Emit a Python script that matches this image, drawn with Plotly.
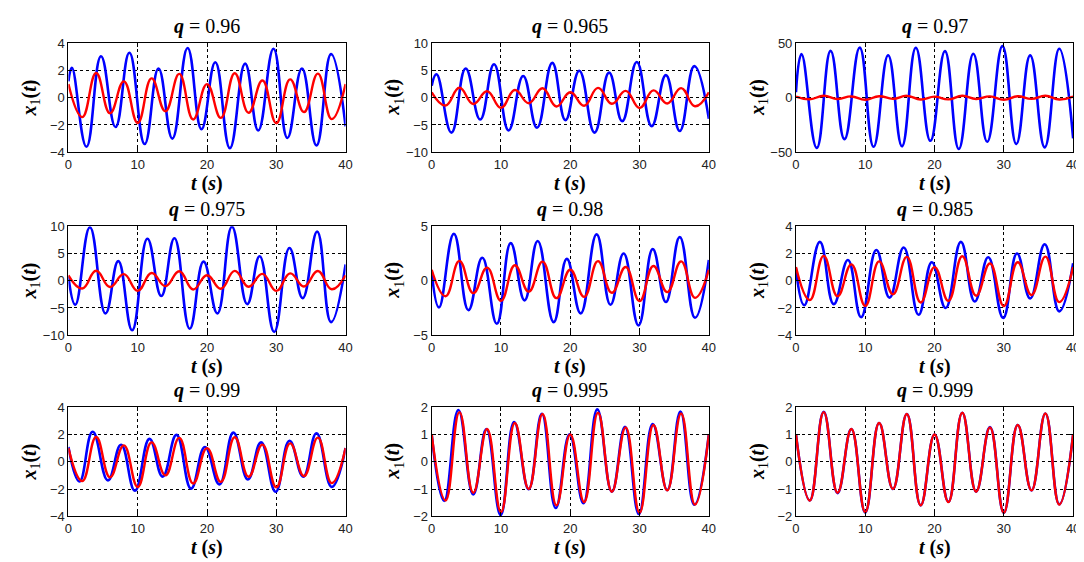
import plotly.graph_objects as go

# ---- data (extrema of each curve, t in s) ----
q_labels = ["0.96", "0.965", "0.97", "0.975", "0.98", "0.985", "0.99", "0.995", "0.999"]

# red reference curve, same in every panel
red_t = [0, 2, 4, 6, 8, 10, 12, 14, 16, 18, 20, 22, 24, 26, 28, 30, 32, 34, 36, 38, 40]
red_x = [1.0, -1.42, 1.82, -1.14, 1.2, -1.85, 1.42, -1.0, 1.75, -1.6, 1.0,
         -1.48, 1.8, -1.1, 1.26, -1.87, 1.35, -1.05, 1.77, -1.57, 1.0]

blue_t_096 = [0, 0.5, 2.6, 4.7, 6.8, 8.8, 11.0, 13.0, 15.0, 17.2, 19.2, 21.2, 23.3, 25.5, 27.4, 29.6, 31.6, 33.7, 35.8, 37.9, 40]
blue_x_096 = [1.2, 2.2, -3.6, 3.05, -2.15, 3.3, -3.4, 2.15, -3.0, 3.65, -2.3, 2.6, -3.7, 2.5, -2.4, 3.6, -2.95, 2.15, -3.5, 3.2, -2.1]

blue_t_0965 = [0, 0.7, 2.85, 4.9, 7.0, 9.0, 11.1, 13.2, 15.2, 17.4, 19.3, 21.3, 23.5, 25.6, 27.5, 29.6, 31.75, 33.8, 35.8, 37.9, 40]
blue_x_0965 = [2.2, 4.3, -6.4, 5.35, -4.0, 6.15, -6.0, 4.0, -5.5, 6.4, -4.1, 4.95, -6.4, 4.6, -4.3, 6.55, -5.2, 4.15, -6.1, 5.8, -3.85]

blue_t_097 = [0, 0.8, 3.0, 5.0, 7.0, 9.2, 11.2, 13.3, 15.3, 17.3, 19.4, 21.5, 23.5, 25.6, 27.6, 29.8, 31.8, 33.8, 35.9, 38.0, 40]
blue_x_097 = [5, 40, -46, 43, -38, 46, -45, 39, -44.5, 45.8, -39.5, 42.8, -47, 40.4, -40.4, 47.3, -42.5, 38.9, -45.5, 44.9, -37.3]

blue_t_0975 = [0, 1.0, 3.1, 5.35, 7.2, 9.2, 11.4, 13.4, 15.3, 17.5, 19.5, 21.5, 23.6, 25.8, 27.6, 29.7, 31.9, 33.8, 35.9, 37.9, 40]
blue_x_0975 = [0.8, -4.4, 9.8, -6.0, 3.6, -9.1, 7.7, -2.8, 7.8, -8.8, 3.5, -6.0, 9.9, -4.3, 4.5, -9.4, 6.0, -3.2, 9.0, -7.6, 3.0]

blue_t_098 = [0, 1.05, 3.2, 5.3, 7.3, 9.4, 11.4, 13.4, 15.3, 17.6, 19.5, 21.5, 23.8, 25.8, 27.7, 29.85, 31.9, 33.8, 35.8, 38.0, 40]
blue_x_098 = [0.85, -2.45, 4.3, -2.7, 2.1, -3.95, 3.45, -1.8, 3.65, -3.8, 2.0, -3.0, 4.25, -2.2, 2.5, -4.1, 2.9, -1.95, 4.0, -3.4, 1.9]

blue_t_0985 = [0, 1.2, 3.45, 5.45, 7.5, 9.4, 11.6, 13.5, 15.55, 17.7, 19.6, 21.6, 23.8, 25.8, 27.75, 29.9, 31.9, 33.8, 35.9, 38.0, 40]
blue_x_0985 = [0.9, -1.8, 2.85, -1.72, 1.52, -2.68, 2.25, -1.24, 2.44, -2.5, 1.36, -2.0, 2.85, -1.53, 1.72, -2.73, 2.0, -1.3, 2.68, -2.25, 1.28]

blue_t_099 = [0, 1.6, 3.5, 5.7, 7.6, 9.6, 11.7, 13.6, 15.6, 17.7, 19.7, 21.8, 23.8, 25.9, 27.8, 29.9, 31.9, 33.9, 35.8, 38.0, 40]
blue_x_099 = [1.08, -1.45, 2.2, -1.37, 1.25, -2.13, 1.68, -1.09, 1.97, -1.97, 1.08, -1.66, 2.14, -1.3, 1.42, -2.2, 1.54, -1.09, 2.09, -1.85, 1.0]

blue_t_0995 = [0, 1.8, 3.85, 6.0, 7.9, 9.95, 11.9, 14.0, 15.9, 17.9, 19.9, 21.9, 23.9, 26.0, 27.9, 29.9, 31.9, 34.0, 35.9, 37.9, 40]
blue_x_0995 = [1.0, -1.44, 1.9, -1.2, 1.2, -1.96, 1.46, -1.01, 1.76, -1.7, 1.01, -1.52, 1.92, -1.1, 1.28, -1.92, 1.38, -1.04, 1.84, -1.58, 1.0]

blue_t_0999 = [0, 2, 4, 6, 8, 10, 12, 14, 16, 18, 20, 22, 24, 26, 28, 30, 32, 34, 36, 38, 40]
blue_x_0999 = [1.0, -1.42, 1.83, -1.15, 1.2, -1.86, 1.42, -1.0, 1.75, -1.6, 1.0, -1.47, 1.8, -1.1, 1.27, -1.87, 1.35, -1.05, 1.77, -1.56, 1.0]

blue_t = [blue_t_096, blue_t_0965, blue_t_097, blue_t_0975, blue_t_098, blue_t_0985, blue_t_099, blue_t_0995, blue_t_0999]
blue_x = [blue_x_096, blue_x_0965, blue_x_097, blue_x_0975, blue_x_098, blue_x_0985, blue_x_099, blue_x_0995, blue_x_0999]

y_ranges = [[-4, 4], [-10, 10], [-50, 50], [-10, 10], [-5, 5], [-4, 4], [-4, 4], [-2, 2], [-2, 2]]
y_dticks = [2, 5, 50, 5, 5, 2, 2, 1, 1]
x_ticks = [0, 10, 20, 30, 40]

# ---- layout in pixels ----
W, H = 1084, 562
col_left = [57, 424, 792]
row_top = [29, 217, 403]
pw, ph = 280, 112

serif = "Liberation Serif, Times New Roman, serif"
sans = "Liberation Sans, Arial, sans-serif"

fig = go.Figure()
annotations = []
layout = dict(width=W, height=H, margin=dict(l=0, r=0, t=0, b=0),
              paper_bgcolor="white", plot_bgcolor="white", showlegend=False)

for k in range(9):
    r, c = divmod(k, 3)
    n = k + 1
    xa = "x" if n == 1 else "x%d" % n
    ya = "y" if n == 1 else "y%d" % n
    x0 = col_left[c] / W
    x1 = (col_left[c] + pw) / W
    y1 = 1 - row_top[r] / H
    y0 = 1 - (row_top[r] + ph) / H

    fig.add_trace(go.Scatter(x=blue_t[k], y=blue_x[k], mode="lines",
                             line=dict(color="#0000ff", width=2.6, shape="spline", smoothing=1.3),
                             xaxis=xa, yaxis=ya))
    fig.add_trace(go.Scatter(x=red_t, y=red_x, mode="lines",
                             line=dict(color="#ff0000", width=2.4, shape="spline", smoothing=1.3),
                             xaxis=xa, yaxis=ya))

    common = dict(showline=True, linecolor="black", linewidth=1, mirror="ticks",
                  ticks="inside", ticklen=4, tickcolor="black",
                  showgrid=True, gridcolor="black", griddash="dot", gridwidth=1,
                  zeroline=False, tickfont=dict(family=sans, size=13, color="#222"))
    layout["xaxis" if n == 1 else "xaxis%d" % n] = dict(
        common, domain=[x0, x1], range=[0, 40], tickvals=x_ticks, anchor=ya)
    layout["yaxis" if n == 1 else "yaxis%d" % n] = dict(
        common, domain=[y0, y1], range=y_ranges[k], dtick=y_dticks[k], anchor=xa)

    xc = (x0 + x1) / 2
    annotations.append(dict(text="<b><i>q</i></b> = " + q_labels[k], x=xc,
                            y=1 - (row_top[r] - 17) / H, xref="paper", yref="paper",
                            showarrow=False, xanchor="center", yanchor="middle",
                            font=dict(family=serif, size=20, color="black")))
    annotations.append(dict(text="<b><i>t</i></b> <b>(<i>s</i>)</b>", x=xc,
                            y=1 - (row_top[r] + ph + 32) / H, xref="paper", yref="paper",
                            showarrow=False, xanchor="center", yanchor="middle",
                            font=dict(family=serif, size=20, color="black")))
    annotations.append(dict(text="<b><i>x</i></b><sub>1</sub><b>(<i>t</i>)</b>",
                            x=(col_left[c] - 38) / W, y=(y0 + y1) / 2,
                            xref="paper", yref="paper", textangle=-90,
                            showarrow=False, xanchor="center", yanchor="middle",
                            font=dict(family=serif, size=20, color="black")))

layout["annotations"] = annotations
fig.update_layout(**layout)
fig.write_html("out.html")
